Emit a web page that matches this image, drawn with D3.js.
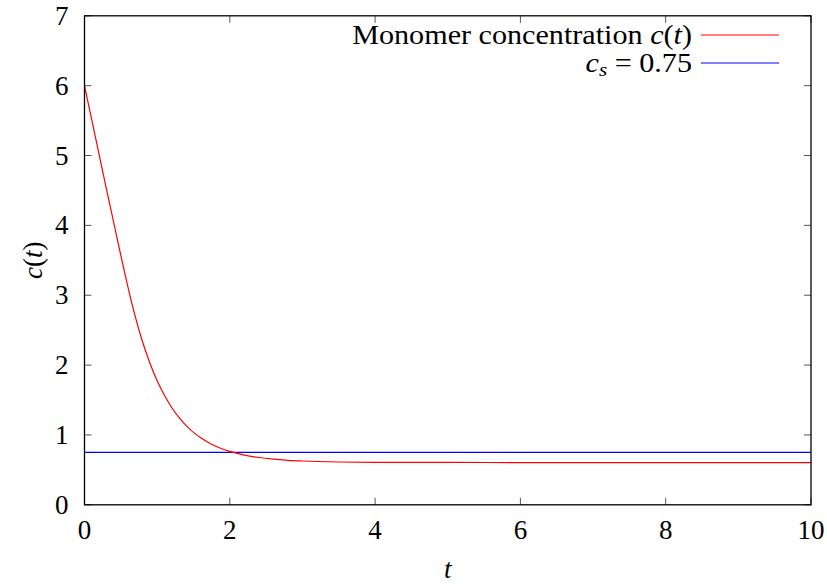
<!DOCTYPE html>
<html>
<head>
<meta charset="utf-8">
<script src="https://cdnjs.cloudflare.com/ajax/libs/d3/7.8.5/d3.min.js"></script>
<style>
  body { margin: 0; background: #fff; }
  text { font-family: "Liberation Serif", "DejaVu Serif", serif; fill: #000; }
</style>
</head>
<body>
<svg id="chart" width="827" height="584"></svg>
<script>
// monomer concentration c(t)
var tValues = [0, 0.1, 0.2, 0.3, 0.4, 0.5, 0.6, 0.7, 0.8, 0.9, 1.0, 1.1, 1.2, 1.3, 1.4, 1.5, 1.6, 1.7, 1.8, 1.9, 2.0, 2.2, 2.4, 2.6, 2.8, 3.0, 3.5, 4, 5, 6, 8, 10];
var cValues = [6.00, 5.51, 5.02, 4.53, 4.05, 3.57, 3.11, 2.69, 2.33, 2.03, 1.775, 1.567, 1.393, 1.25, 1.133, 1.037, 0.959, 0.895, 0.842, 0.799, 0.764, 0.712, 0.677, 0.653, 0.637, 0.627, 0.613, 0.608, 0.606, 0.605, 0.605, 0.605];
var cs = 0.75;
var xTicks = [0, 2, 4, 6, 8, 10];
var yTicks = [0, 1, 2, 3, 4, 5, 6, 7];

var svg = d3.select('#chart');
var pL = 84.5, pR = 811, pT = 15.8, pB = 504.8;   // plot box
var fontSize = 27;

var x = d3.scaleLinear().domain([0, 10]).range([pL, pR]);
var y = d3.scaleLinear().domain([0, 7]).range([pB, pT]);

var g = svg.append('g');

// ticks, gnuplot style: inward, mirrored on all sides
var tickLen = 7;
g.selectAll('.xt').data(xTicks).enter().append('path')
	.attr('d', function(d) {
		return 'M' + x(d) + ',' + pB + 'v' + (-tickLen) + 'M' + x(d) + ',' + pT + 'v' + tickLen;
	})
	.attr('stroke', '#555').attr('stroke-width', 1);
g.selectAll('.yt').data(yTicks).enter().append('path')
	.attr('d', function(d) {
		return 'M' + pL + ',' + y(d) + 'h' + tickLen + 'M' + pR + ',' + y(d) + 'h' + (-tickLen);
	})
	.attr('stroke', '#555').attr('stroke-width', 1);

// tick labels
g.selectAll('.xl').data(xTicks).enter().append('text')
	.attr('x', function(d) { return x(d); })
	.attr('y', pB + 34)
	.attr('text-anchor', 'middle')
	.attr('font-size', fontSize)
	.text(function(d) { return d; });
g.selectAll('.yl').data(yTicks).enter().append('text')
	.attr('x', pL - 16)
	.attr('y', function(d) { return y(d) + 9; })
	.attr('text-anchor', 'end')
	.attr('font-size', fontSize)
	.text(function(d) { return d; });

// curves
var line = d3.line()
	.x(function(d) { return x(d[0]); })
	.y(function(d) { return y(d[1]); })
	.curve(d3.curveMonotoneX);

g.append('path')
	.datum([[0, cs], [10, cs]])
	.attr('d', line)
	.attr('fill', 'none').attr('stroke', '#0000ff').attr('stroke-width', 1.2);

g.append('path')
	.datum(d3.zip(tValues, cValues))
	.attr('d', line)
	.attr('fill', 'none').attr('stroke', '#ff0000').attr('stroke-width', 1.2);

// border
g.append('rect')
	.attr('x', pL).attr('y', pT)
	.attr('width', pR - pL).attr('height', pB - pT)
	.attr('fill', 'none').attr('stroke', '#000').attr('stroke-width', 1.3);

// axis labels
var yl = svg.append('text')
	.attr('transform', 'translate(42,' + ((pT + pB) / 2) + ') rotate(-90)')
	.attr('text-anchor', 'middle')
	.attr('font-size', fontSize);
yl.append('tspan').attr('font-style', 'italic').text('c');
yl.append('tspan').text('(');
yl.append('tspan').attr('font-style', 'italic').text('t');
yl.append('tspan').text(')');

svg.append('text')
	.attr('x', (pL + pR) / 2).attr('y', 578)
	.attr('text-anchor', 'middle')
	.attr('font-size', fontSize)
	.attr('font-style', 'italic')
	.text('t');

// legend
var legX = 692, legLine0 = 701, legLine1 = 779;
var l1 = svg.append('text')
	.attr('text-anchor', 'end')
	.attr('font-size', fontSize);
l1.append('tspan').text('Monomer concentration ');
l1.append('tspan').attr('font-style', 'italic').text('c');
l1.append('tspan').text('(');
l1.append('tspan').attr('font-style', 'italic').text('t');
l1.append('tspan').text(')');
svg.append('line')
	.attr('x1', legLine0).attr('x2', legLine1).attr('y1', 35).attr('y2', 35)
	.attr('stroke', '#ff0000').attr('stroke-width', 1.2);

var l2 = svg.append('text')
	.attr('text-anchor', 'end')
	.attr('font-size', fontSize);
l2.append('tspan').attr('font-style', 'italic').text('c');
l2.append('tspan').attr('font-style', 'italic').attr('font-size', fontSize * 0.7).attr('dy', 4).text('s');
l2.append('tspan').attr('dy', -4).text(' = 0.75');
svg.append('line')
	.attr('x1', legLine0).attr('x2', legLine1).attr('y1', 63).attr('y2', 63)
	.attr('stroke', '#0000ff').attr('stroke-width', 1.2);

// widen the legend text a bit, the original font runs wider than Liberation Serif
var sx = 340 / l1.node().getComputedTextLength();
l1.attr('transform', 'translate(' + legX + ',44) scale(' + sx + ',1)');
l2.attr('transform', 'translate(' + legX + ',72) scale(' + sx + ',1)');
</script>
</body>
</html>
